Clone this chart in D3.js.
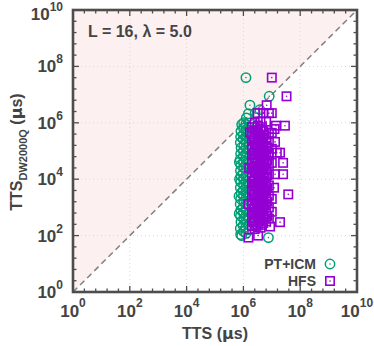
<!DOCTYPE html>
<html>
<head>
<meta charset="utf-8">
<script src="https://cdn.jsdelivr.net/npm/d3@7"></script>
<style>
  body { margin: 0; background: #fff; }
  text { font-family: "Liberation Sans", Arial, sans-serif; font-weight: bold; fill: #444; }
</style>
</head>
<body>
<div id="chart"></div>
<script>
var width = 374,
    height = 346;

// decade exponents shown as tick labels
var majorExp = [0, 2, 4, 6, 8, 10];
var seriesNames = ["PT+ICM", "HFS"];
var annotation = "L = 16, \u03bb = 5.0";

// [TTS (us), TTS DW2000Q (us)]
var ptIcm = [
    [1.23e6, 4.0e7], [8.1e6, 8.7e6], [1.7e6, 4.2e6], [2.6e6, 2.2e6], [3.8e6, 2.9e6],
    [8.7e5, 8.7e5], [2.2e6, 8.7e5], [1.0e6, 3.8e5], [1.9e6, 3.2e5], [8.7e5, 1.0e2], [7.6e6, 8.5e1],
    [8.0e5, 1.1e2], [7.8e5, 1.8e2], [8.2e5, 3.0e2], [7.9e5, 5.0e2], [8.1e5, 8.0e2], [7.7e5, 1.3e3],
    [8.0e5, 2.0e3], [8.3e5, 3.2e3], [7.8e5, 5.0e3], [8.0e5, 8.0e3], [8.2e5, 1.3e4], [7.9e5, 2.0e4],
    [8.1e5, 3.2e4], [7.7e5, 5.0e4], [8.0e5, 8.0e4], [8.3e5, 1.3e5], [7.8e5, 2.0e5], [8.0e5, 3.2e5],
    [8.2e5, 5.0e5],
    [1.0e6, 1.4e2], [9.8e5, 2.3e2], [1.02e6, 4.0e2], [1.0e6, 6.5e2], [9.7e5, 1.0e3], [1.03e6, 1.6e3],
    [1.0e6, 2.6e3], [9.8e5, 4.0e3], [1.01e6, 6.5e3], [1.0e6, 1.0e4], [9.7e5, 1.6e4], [1.02e6, 2.6e4],
    [1.0e6, 4.0e4], [9.9e5, 6.5e4], [1.0e6, 1.0e5], [1.03e6, 1.6e5], [9.8e5, 2.6e5], [1.0e6, 6.5e5],
    [1.02e6, 1.0e6],
    [1.25e6, 1.2e2], [1.22e6, 2.0e2], [1.27e6, 3.5e2], [1.25e6, 5.5e2], [1.23e6, 9.0e2], [1.26e6, 1.4e3],
    [1.25e6, 2.3e3], [1.22e6, 3.6e3], [1.27e6, 5.8e3], [1.25e6, 9.0e3], [1.24e6, 1.4e4], [1.26e6, 2.3e4],
    [1.25e6, 3.6e4], [1.22e6, 5.8e4], [1.27e6, 9.0e4], [1.25e6, 1.4e5], [1.23e6, 2.3e5], [1.26e6, 3.6e5],
    [1.25e6, 5.8e5], [1.22e6, 9.0e5], [1.27e6, 1.5e6],
    [1.55e6, 1.6e2], [1.5e6, 4.5e2], [1.58e6, 1.2e3], [1.55e6, 3.0e3], [1.52e6, 7.0e3], [1.57e6, 1.8e4],
    [1.55e6, 4.5e4], [1.5e6, 1.1e5], [1.58e6, 2.8e5], [1.55e6, 7.0e5], [1.5e6, 2.1e6],
    [7.0e5, 2.5e3], [7.2e5, 4.0e4], [7.1e5, 6.0e2], [7.3e5, 1.0e4]
];

var hfs = [
    [1.0e7, 4.0e7], [3.3e7, 8.7e6], [6.6e6, 4.2e6], [1.0e7, 2.2e6], [1.4e7, 7.9e5], [2.9e7, 7.9e5],
    [1.7e6, 4.6e5], [1.3e7, 2.1e5], [2.2e6, 2.2e4], [1.3e7, 1.5e4], [2.5e7, 1.5e4], [1.95e7, 8.7e4],
    [3.8e7, 2.9e3], [1.5e6, 8.5e1], [3.3e6, 1.0e2], [8.7e6, 2.1e2], [1.95e7, 3.0e2], [2.5e7, 3.8e4],
    [1.5e7, 8.7e4], [1.2e7, 5.0e3], [1.5e6, 1.3e3], [1.6e6, 2.5e4], [1.25e7, 6.0e5],
    [2.0e6, 2.2e2], [2.0e6, 4.0e2], [2.0e6, 7.0e2], [2.0e6, 1.3e3], [2.0e6, 2.3e3], [2.0e6, 4.0e3],
    [2.0e6, 7.0e3], [2.0e6, 1.3e4], [2.0e6, 2.3e4], [2.0e6, 4.0e4], [2.0e6, 7.0e4], [2.0e6, 1.3e5],
    [2.0e6, 2.3e5], [2.0e6, 4.0e5], [2.0e6, 7.0e5],
    [2.25e6, 3.0e2], [2.25e6, 9.0e2], [2.25e6, 2.8e3], [2.25e6, 8.5e3], [2.25e6, 2.6e4], [2.25e6, 8.0e4],
    [2.25e6, 2.5e5],
    [2.5e6, 1.7e2], [2.5e6, 3.0e2], [2.5e6, 5.5e2], [2.5e6, 1.0e3], [2.5e6, 1.7e3], [2.5e6, 3.0e3],
    [2.5e6, 5.5e3], [2.5e6, 1.0e4], [2.5e6, 1.7e4], [2.5e6, 3.0e4], [2.5e6, 5.5e4], [2.5e6, 1.0e5],
    [2.5e6, 1.7e5], [2.5e6, 3.0e5], [2.5e6, 5.5e5], [2.5e6, 1.0e6],
    [2.8e6, 2.2e2], [2.8e6, 6.5e2], [2.8e6, 2.0e3], [2.8e6, 6.0e3], [2.8e6, 1.8e4], [2.8e6, 5.5e4],
    [2.8e6, 1.7e5], [2.8e6, 5.0e5],
    [3.2e6, 2.5e2], [3.2e6, 4.5e2], [3.2e6, 8.0e2], [3.2e6, 1.4e3], [3.2e6, 2.5e3], [3.2e6, 4.5e3],
    [3.2e6, 8.0e3], [3.2e6, 1.4e4], [3.2e6, 2.5e4], [3.2e6, 4.5e4], [3.2e6, 8.0e4], [3.2e6, 1.4e5],
    [3.2e6, 2.5e5], [3.2e6, 4.5e5], [3.2e6, 8.0e5], [3.2e6, 2.2e6],
    [3.6e6, 3.5e2], [3.6e6, 1.0e3], [3.6e6, 3.2e3], [3.6e6, 9.5e3], [3.6e6, 2.9e4], [3.6e6, 9.0e4],
    [3.6e6, 2.8e5],
    [4.0e6, 1.9e2], [4.0e6, 3.4e2], [4.0e6, 6.0e2], [4.0e6, 1.1e3], [4.0e6, 1.9e3], [4.0e6, 3.4e3],
    [4.0e6, 6.0e3], [4.0e6, 1.1e4], [4.0e6, 1.9e4], [4.0e6, 3.4e4], [4.0e6, 6.0e4], [4.0e6, 1.1e5],
    [4.0e6, 1.9e5], [4.0e6, 3.4e5], [4.0e6, 6.0e5], [4.0e6, 1.1e6],
    [4.5e6, 2.4e2], [4.5e6, 7.5e2], [4.5e6, 2.2e3], [4.5e6, 7.0e3], [4.5e6, 2.1e4], [4.5e6, 6.5e4],
    [4.5e6, 2.0e5], [4.5e6, 7.0e5],
    [5.0e6, 2.8e2], [5.0e6, 5.0e2], [5.0e6, 9.0e2], [5.0e6, 1.6e3], [5.0e6, 2.8e3], [5.0e6, 5.0e3],
    [5.0e6, 9.0e3], [5.0e6, 1.6e4], [5.0e6, 2.8e4], [5.0e6, 5.0e4], [5.0e6, 9.0e4], [5.0e6, 1.6e5],
    [5.0e6, 2.8e5], [5.0e6, 5.0e5], [5.0e6, 2.2e6],
    [5.6e6, 4.0e2], [5.6e6, 1.2e3], [5.6e6, 3.6e3], [5.6e6, 1.1e4], [5.6e6, 3.4e4], [5.6e6, 1.0e5],
    [5.6e6, 3.8e5],
    [6.3e6, 3.2e2], [6.3e6, 6.0e2], [6.3e6, 1.2e3], [6.3e6, 2.2e3], [6.3e6, 4.0e3], [6.3e6, 7.0e3],
    [6.3e6, 1.2e4], [6.3e6, 2.2e4], [6.3e6, 4.0e4], [6.3e6, 7.0e4], [6.3e6, 1.5e5], [6.3e6, 3.0e5],
    [6.3e6, 1.1e6],
    [7.0e6, 5.0e2], [7.0e6, 1.6e3], [7.0e6, 4.8e3], [7.0e6, 1.4e4], [7.0e6, 4.5e4], [7.0e6, 1.3e5],
    [7.9e6, 4.0e2], [7.9e6, 1.0e3], [7.9e6, 2.6e3], [7.9e6, 6.0e3], [7.9e6, 1.5e4], [7.9e6, 3.5e4],
    [7.9e6, 8.0e4], [7.9e6, 2.0e5], [7.9e6, 4.4e5], [7.9e6, 2.2e6],
    [1.0e7, 7.0e2], [1.0e7, 2.0e3], [1.0e7, 3.8e4], [1.0e7, 1.2e5], [1.0e7, 4.4e5]
];

var green = "#009e73",
    purple = "#9400d3",
    ink = "#4d4d4d";

var margin = {left: 73, right: 17, top: 10, bottom: 54};

var svg = d3.select("#chart").append("svg")
    .attr("width", width)
    .attr("height", height);

var x = d3.scaleLog()
    .domain([1, 1e10])
    .range([margin.left, width - margin.right]);

var y = d3.scaleLog()
    .domain([1, 1e10])
    .range([height - margin.bottom, margin.top]);

var x0 = x.range()[0], x1 = x.range()[1],
    y0 = y.range()[0], y1 = y.range()[1];

// shaded region above the diagonal
svg.append("path")
    .attr("d", "M" + x(1) + "," + y(1) + "L" + x(1e10) + "," + y(1e10) + "L" + x(1) + "," + y(1e10) + "Z")
    .style("fill", "#fdf0f0");

// grid
var gridVals = majorExp.slice(1, -1).map(function (e) { return Math.pow(10, e); });
svg.selectAll("line.gx")
    .data(gridVals)
    .enter().append("line")
    .attr("x1", function (d) { return x(d); })
    .attr("x2", function (d) { return x(d); })
    .attr("y1", y0).attr("y2", y1)
    .style("stroke", "#d8d8d8")
    .style("stroke-dasharray", "1,3");
svg.selectAll("line.gy")
    .data(gridVals)
    .enter().append("line")
    .attr("y1", function (d) { return y(d); })
    .attr("y2", function (d) { return y(d); })
    .attr("x1", x0).attr("x2", x1)
    .style("stroke", "#d8d8d8")
    .style("stroke-dasharray", "1,3");

// diagonal
svg.append("line")
    .attr("x1", x(1)).attr("y1", y(1))
    .attr("x2", x(1e10)).attr("y2", y(1e10))
    .style("stroke", "#808080")
    .style("stroke-width", 1.5)
    .style("stroke-dasharray", "6,4");

// ticks (inward, mirrored)
var minorExp = d3.range(0, 10.01, 0.4);
minorExp.forEach(function (e) {
    var v = Math.pow(10, e);
    var isMajor = Math.abs(e - Math.round(e)) < 1e-6 && Math.round(e) % 2 === 0;
    var len = isMajor ? 6 : 3.5;
    [[x(v), y0, x(v), y0 - len], [x(v), y1, x(v), y1 + len],
     [x0, y(v), x0 + len, y(v)], [x1, y(v), x1 - len, y(v)]].forEach(function (s) {
        svg.append("line")
            .attr("x1", s[0]).attr("y1", s[1]).attr("x2", s[2]).attr("y2", s[3])
            .style("stroke", ink)
            .style("stroke-width", 1.3);
    });
});

// points
function circleMark(g, cx, cy) {
    g.append("circle").attr("cx", cx).attr("cy", cy).attr("r", 4.7)
        .style("fill", "none").style("stroke", green).style("stroke-width", 1.5);
    g.append("circle").attr("cx", cx).attr("cy", cy).attr("r", 0.8).style("fill", green);
}
function squareMark(g, cx, cy) {
    g.append("rect").attr("x", cx - 4.2).attr("y", cy - 4.2).attr("width", 8.4).attr("height", 8.4)
        .style("fill", "none").style("stroke", purple).style("stroke-width", 1.6);
    g.append("circle").attr("cx", cx).attr("cy", cy).attr("r", 0.8).style("fill", purple);
}

var pts = svg.append("g");
ptIcm.forEach(function (d) { circleMark(pts, x(d[0]), y(d[1])); });
hfs.forEach(function (d) { squareMark(pts, x(d[0]), y(d[1])); });

// frame
svg.append("rect")
    .attr("x", x0).attr("y", y1)
    .attr("width", x1 - x0).attr("height", y0 - y1)
    .style("fill", "none")
    .style("stroke", ink)
    .style("stroke-width", 2.6);

// tick labels
majorExp.forEach(function (e) {
    var v = Math.pow(10, e);
    var tx = svg.append("text")
        .attr("x", x(v)).attr("y", y0 + 25)
        .attr("text-anchor", "middle")
        .style("font-size", "17px");
    tx.append("tspan").text("10");
    tx.append("tspan").attr("dy", -10).style("font-size", "12px").text(e);

    var ty = svg.append("text")
        .attr("x", x0 - 10).attr("y", e === 10 ? y(v) + 10 : y(v) + 6)
        .attr("text-anchor", "end")
        .style("font-size", "17px");
    ty.append("tspan").text("10");
    ty.append("tspan").attr("dy", -9).style("font-size", "12px").text(e);
});

// axis titles
var xt = svg.append("text")
    .attr("x", 215).attr("y", 339)
    .attr("text-anchor", "middle")
    .style("font-size", "16px");
xt.append("tspan").text("TTS (");
xt.append("tspan").style("font-family", "'DejaVu Sans'").text("\u03bc");
xt.append("tspan").text("s)");

var yt = svg.append("text")
    .attr("transform", "translate(22,152) rotate(-90)")
    .attr("text-anchor", "middle")
    .style("font-size", "16px");
yt.append("tspan").text("TTS");
yt.append("tspan").attr("dy", 5).style("font-size", "11px").text("DW2000Q");
yt.append("tspan").attr("dy", -5).text(" (");
yt.append("tspan").style("font-family", "'DejaVu Sans'").text("\u03bc");
yt.append("tspan").text("s)");

// annotation
svg.append("text")
    .attr("x", 88).attr("y", 37)
    .style("font-size", "16px")
    .text(annotation);

// legend
var legY = [264, 281];
seriesNames.forEach(function (name, i) {
    svg.append("text")
        .attr("x", 316).attr("y", legY[i] + 5)
        .attr("text-anchor", "end")
        .style("font-size", "14px")
        .text(name);
});
circleMark(svg, 330, legY[0]);
squareMark(svg, 330, legY[1]);
</script>
</body>
</html>
